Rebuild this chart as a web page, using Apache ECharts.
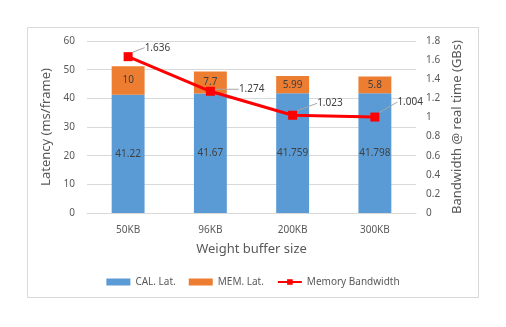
<!DOCTYPE html>
<html>
<head>
<meta charset="utf-8">
<script src="https://cdn.jsdelivr.net/npm/echarts@6/dist/echarts.min.js"></script>
<style>
html, body { margin: 0; padding: 0; background: #fff; }
#chart { width: 506px; height: 327px; }
</style>
</head>
<body>
<div id="chart"></div>
<script>
var categories = ['50KB', '96KB', '200KB', '300KB'];
var calLat = [41.22, 41.67, 41.759, 41.798];
var memLat = [10, 7.7, 5.99, 5.8];
var bandwidth = [1.636, 1.274, 1.023, 1.004];
// label offsets for the bandwidth callouts
var labelShift = [[8, -9], [20, -2], [16, -12], [14, -15]];

var font = 'Noto Sans';
var grey = '#595959';

var chart = echarts.init(document.getElementById('chart'));
chart.setOption({
    animation: false,
    textStyle: { fontFamily: font },
    graphic: [{
        type: 'rect',
        shape: { x: 27.5, y: 27.5, width: 451, height: 270 },
        style: { fill: 'none', stroke: '#d9d9d9', lineWidth: 1 },
        silent: true
    }],
    grid: { left: 87, right: 90, top: 41, bottom: 114 },
    legend: {
        bottom: 35,
        left: 'center',
        itemWidth: 24,
        itemHeight: 7,
        itemGap: 13,
        textStyle: { fontFamily: font, fontSize: 10, color: grey },
        data: [
            { name: 'CAL. Lat.', icon: 'rect' },
            { name: 'MEM. Lat.', icon: 'rect' },
            { name: 'Memory Bandwidth' }
        ]
    },
    xAxis: {
        type: 'category',
        data: categories,
        name: 'Weight buffer size',
        nameLocation: 'middle',
        nameGap: 30,
        nameTextStyle: { fontSize: 13, color: grey },
        axisLine: { lineStyle: { color: '#d9d9d9' } },
        axisTick: { show: false },
        axisLabel: { fontSize: 10, color: grey, margin: 12 }
    },
    yAxis: [{
        type: 'value',
        min: 0, max: 60, interval: 10,
        name: 'Latency (ms/frame)',
        nameLocation: 'middle',
        nameGap: 28,
        nameTextStyle: { fontSize: 13, color: grey },
        axisLabel: { fontSize: 10, color: grey, margin: 12 },
        splitLine: { lineStyle: { color: '#d9d9d9' } }
    }, {
        type: 'value',
        min: 0, max: 1.8, interval: 0.2,
        name: 'Bandwidth @ real time (GBs)',
        nameLocation: 'middle',
        nameGap: 35,
        nameRotate: 90,
        nameTextStyle: { fontSize: 13, color: grey },
        axisLabel: {
            fontSize: 10, color: grey, margin: 10,
            formatter: function (v) { return String(Math.round(v * 10) / 10); }
        },
        splitLine: { show: false }
    }],
    series: [{
        name: 'CAL. Lat.',
        type: 'bar',
        stack: 'lat',
        barWidth: '40%',
        itemStyle: { color: '#5B9BD5' },
        label: { show: true, position: 'inside', fontSize: 10, color: '#404040' },
        data: calLat
    }, {
        name: 'MEM. Lat.',
        type: 'bar',
        stack: 'lat',
        barWidth: '40%',
        itemStyle: { color: '#ED7D31' },
        label: { show: true, position: 'inside', fontSize: 10, color: '#404040' },
        data: memLat
    }, {
        name: 'Memory Bandwidth',
        type: 'line',
        yAxisIndex: 1,
        symbol: 'rect',
        symbolSize: 9,
        lineStyle: { color: '#FF0000', width: 3 },
        itemStyle: { color: '#FF0000' },
        label: {
            show: true, position: 'right', distance: 4,
            fontSize: 10, color: '#404040'
        },
        labelLine: { show: true, lineStyle: { color: '#a6a6a6', width: 1 } },
        labelLayout: function (p) {
            var s = labelShift[p.dataIndex];
            return { dx: s[0], dy: s[1] };
        },
        data: bandwidth
    }]
});
</script>
</body>
</html>
